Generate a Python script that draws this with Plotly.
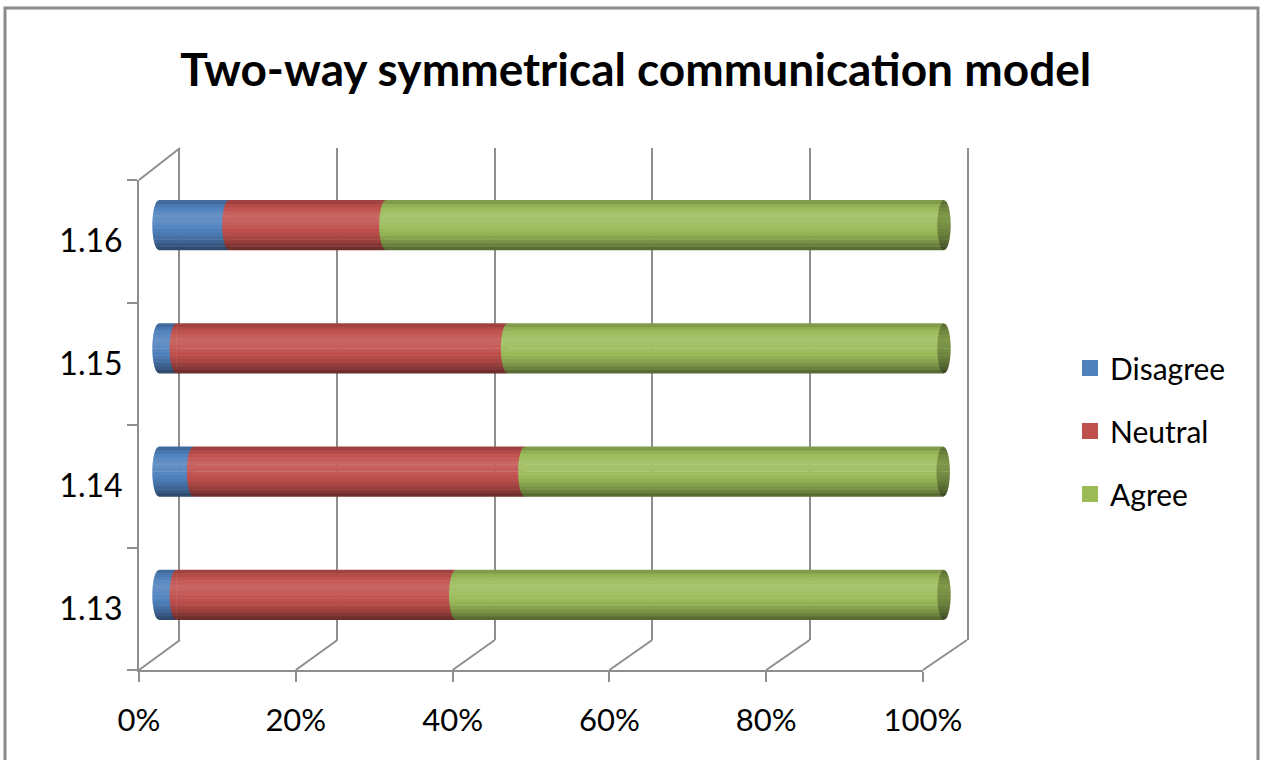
import math
import plotly.graph_objects as go

# ---------------- data (percent of respondents) ----------------
categories = ["1.13", "1.14", "1.15", "1.16"]
disagree = [2.2, 4.4, 2.2, 8.9]
neutral = [35.6, 42.2, 42.2, 20.0]
agree = [62.2, 53.3, 55.6, 71.1]
series_names = ["Disagree", "Neutral", "Agree"]
x_ticks = [0, 20, 40, 60, 80, 100]
x_tick_labels = ["0%", "20%", "40%", "60%", "80%", "100%"]
title_text = "Two-way symmetrical communication model"

# ---------------- styling ----------------
W, H = 1264, 760
FONT = "Lato"
GRID = "#8E8E8E"
base_colors = ["#4F81BD", "#C0504D", "#9BBB59"]
HB = 0.2025      # half bar thickness (category units)
CAP = 0.85       # half width of the cylinder end ellipse (x units)
NB = 14          # shading bands
# brightness profile from bottom (t=-1) to top (t=+1)
profile = [(-1.0, 0.52), (-0.75, 0.72), (-0.4, 0.93), (0.0, 1.06),
           (0.35, 1.13), (0.7, 1.0), (0.9, 0.86), (1.0, 0.76)]


def shade(hex_color, f):
    r, g, b = (int(hex_color[i:i + 2], 16) for i in (1, 3, 5))
    if f <= 1:
        r, g, b = r * f, g * f, b * f
    else:
        a = min(f - 1, 1)
        r, g, b = r + (255 - r) * a, g + (255 - g) * a, b + (255 - b) * a
    return "#%02x%02x%02x" % (int(round(r)), int(round(g)), int(round(b)))


def factor(t):
    for (t0, f0), (t1, f1) in zip(profile[:-1], profile[1:]):
        if t0 <= t <= t1:
            return f0 + (f1 - f0) * (t - t0) / (t1 - t0)
    return profile[-1][1]


bands = []
for k in range(NB):
    lo = -HB + 2 * HB * k / NB
    hi = -HB + 2 * HB * (k + 1) / NB
    tc = ((lo + hi) / 2) / HB
    bands.append((lo, hi, factor(tc)))


def fx(p):
    return p / W


def fy(p):
    return 1 - p / H


# pixel frame of the pseudo-3D box
FRONT_L, FRONT_R, FRONT_T, FRONT_B = 139, 923, 180, 670
BACK_L, BACK_R, BACK_T, BACK_B = 180, 967, 148, 640
BAR0, BAR100 = 159, 944          # pixel of 0% and 100% at bar depth
XPAD = 3.0                        # extra range so the rounded ends are not clipped
SX = (BAR100 - BAR0) / 100.0
BAR_L, BAR_R = BAR0 - XPAD * SX, BAR100 + XPAD * SX
BAR_T, BAR_B = 163.5, 656.5

fig = go.Figure()

# invisible trace so the back-wall subplot (grid) is drawn
fig.add_trace(go.Scatter(x=[None], y=[None], mode="markers", xaxis="x", yaxis="y",
                         showlegend=False, hoverinfo="skip"))

values = [disagree, neutral, agree]
bases = []
run = [0.0] * len(categories)
for vals in values:
    bases.append(run[:])
    run = [r + v for r, v in zip(run, vals)]
totals = run

# bars: horizontal shading bands for a cylinder look
for s, vals in enumerate(values):
    for lo, hi, f in bands:
        fig.add_trace(go.Bar(
            y=categories, x=vals, base=bases[s], orientation="h",
            width=(hi - lo) + 0.004, offset=lo - 0.002,
            marker=dict(color=shade(base_colors[s], f), line=dict(width=0)),
            xaxis="x2", yaxis="y2", showlegend=False, hoverinfo="skip",
        ))


def half_curve(c, yc, lo, hi, side, steps=6):
    pts = []
    for j in range(steps + 1):
        y = lo + (hi - lo) * j / steps
        dx = CAP * math.sqrt(max(0.0, 1 - (y / HB) ** 2))
        pts.append((c + side * dx, yc + y))
    return pts


shapes = []
for i, cat in enumerate(categories):
    # rounded left end of every segment (bulges over the previous one)
    for s in range(3):
        c = bases[s][i]
        for lo, hi, f in bands:
            lo2, hi2 = max(lo - 0.002, -HB), min(hi + 0.002, HB)
            pts = half_curve(c, i, lo2, hi2, -1)
            path = "M%.4f,%.4f " % (c + 0.05, i + lo2)
            path += " ".join("L%.4f,%.4f" % p for p in pts)
            path += " L%.4f,%.4f Z" % (c + 0.05, i + hi2)
            shapes.append(dict(type="path", xref="x2", yref="y2", path=path,
                               fillcolor=shade(base_colors[s], f),
                               line=dict(width=0), layer="above"))
    # elliptical end face at the right
    c = totals[i]
    for lo, hi, f in bands:
        lo2, hi2 = max(lo - 0.002, -HB), min(hi + 0.002, HB)
        left = half_curve(c, i, lo2, hi2, -1)
        right = half_curve(c, i, lo2, hi2, +1)[::-1]
        pts = left + right
        path = "M%.4f,%.4f " % pts[0] + " ".join("L%.4f,%.4f" % p for p in pts[1:]) + " Z"
        shapes.append(dict(type="path", xref="x2", yref="y2", path=path,
                           fillcolor=shade(base_colors[2], f * 0.72),
                           line=dict(width=0), layer="above"))

# pseudo-3D frame lines
sx_front = (FRONT_R - FRONT_L) / 100.0
sx_back = (BACK_R - BACK_L) / 100.0
shapes.append(dict(type="line", xref="paper", yref="paper",
                   x0=fx(FRONT_L), y0=fy(FRONT_T), x1=fx(BACK_L), y1=fy(BACK_T),
                   line=dict(color=GRID, width=2)))
for v in x_ticks:
    shapes.append(dict(type="line", xref="paper", yref="paper",
                       x0=fx(FRONT_L + sx_front * v), y0=fy(FRONT_B),
                       x1=fx(BACK_L + sx_back * v), y1=fy(BACK_B),
                       line=dict(color=GRID, width=2)))
# outer chart border
shapes.append(dict(type="rect", xref="paper", yref="paper",
                   x0=fx(5), y0=fy(790), x1=fx(1258), y1=fy(8),
                   line=dict(color="#8A8A8A", width=3), fillcolor="rgba(0,0,0,0)"))

# invisible trace to register categories on the front axis
fig.add_trace(go.Scatter(y=categories, x=[None] * len(categories), mode="markers",
                         xaxis="x3", yaxis="y3", showlegend=False, hoverinfo="skip"))
# legend entries
for s, name in enumerate(series_names):
    fig.add_trace(go.Scatter(x=[None], y=[None], mode="markers", name=name,
                             marker=dict(symbol="square", size=16, color=base_colors[s]),
                             legendgroup=name, xaxis="x3", yaxis="y3"))

fig.update_layout(
    width=W, height=H,
    margin=dict(l=0, r=0, t=0, b=0, autoexpand=False),
    paper_bgcolor="white", plot_bgcolor="rgba(0,0,0,0)",
    barmode="overlay",
    hovermode=False,
    font=dict(family=FONT, size=30, color="black"),
    title=dict(text="<b>" + title_text + "</b>", x=0.503, xanchor="center",
               y=fy(70), yanchor="middle",
               font=dict(family=FONT, size=46, color="black")),
    # back wall (grid)
    xaxis=dict(domain=[fx(BACK_L), fx(BACK_R)], range=[0, 100], tickvals=x_ticks,
               showgrid=True, gridcolor=GRID, gridwidth=2, zeroline=False,
               showticklabels=False, ticks="", showline=False, anchor="y",
               fixedrange=True),
    yaxis=dict(domain=[fy(BACK_B), fy(BACK_T)], range=[0, 1], showgrid=False,
               zeroline=False, showticklabels=False, ticks="", showline=True,
               mirror=True, linecolor=GRID, linewidth=2, anchor="x", fixedrange=True),
    # bars
    xaxis2=dict(domain=[fx(BAR_L), fx(BAR_R)], range=[-XPAD, 100 + XPAD], visible=False,
                anchor="y2", fixedrange=True),
    yaxis2=dict(domain=[fy(BAR_B), fy(BAR_T)], type="category",
                categoryorder="array", categoryarray=categories,
                range=[-0.5, len(categories) - 0.5], visible=False,
                anchor="x2", fixedrange=True),
    # front axes with tick labels
    xaxis3=dict(domain=[fx(FRONT_L), fx(FRONT_R)], range=[0, 100],
                tickvals=x_ticks, ticktext=x_tick_labels,
                showgrid=False, zeroline=False, showline=True, linecolor=GRID,
                linewidth=2, ticks="outside", ticklen=10, tickwidth=2,
                tickcolor=GRID, ticklabelstandoff=12, anchor="y3",
                tickfont=dict(family=FONT, size=31, color="black"), fixedrange=True),
    yaxis3=dict(domain=[fy(FRONT_B), fy(FRONT_T)], type="category",
                categoryorder="array", categoryarray=categories,
                range=[-0.5, len(categories) - 0.5],
                showgrid=False, zeroline=False, showline=True, linecolor=GRID,
                linewidth=2, ticks="outside", ticklen=10, tickwidth=2,
                tickcolor=GRID, tickson="boundaries", anchor="x3",
                ticklabelstandoff=8,
                tickfont=dict(family=FONT, size=32, color="black"), fixedrange=True),
    legend=dict(x=fx(1070), xanchor="left", y=fy(431), yanchor="middle",
                traceorder="grouped", tracegroupgap=21,
                font=dict(family=FONT, size=30, color="black"),
                bgcolor="rgba(0,0,0,0)"),
    shapes=shapes,
)

fig.write_html("out.html")
